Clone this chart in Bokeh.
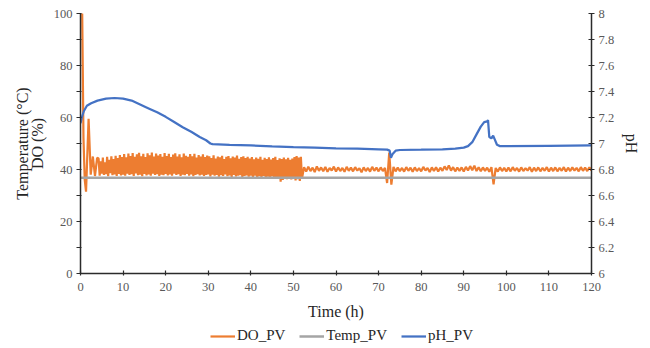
from bokeh.plotting import figure
from bokeh.layouts import column
from bokeh.models import (Range1d, LinearAxis, FixedTicker, CustomJSTickFormatter,
                          Legend, LegendItem)
from bokeh.embed import file_html
from bokeh.resources import INLINE

# ---------------- data ----------------
x_ticks = [0, 10, 20, 30, 40, 50, 60, 70, 80, 90, 100, 110, 120]
left_ticks = [0, 20, 40, 60, 80, 100]
left_minor = [10, 30, 50, 70, 90]
ph_ticks = [6, 6.2, 6.4, 6.6, 6.8, 7, 7.2, 7.4, 7.6, 7.8, 8]
series_names = ["DO_PV", "Temp_PV", "pH_PV"]

# DO_PV start-up transient
do_start_t = [0, 0.4, 0.7, 1.0, 1.3, 1.9, 2.4, 2.9, 3.4, 3.9]
do_start = [100, 100, 52, 36, 31.5, 59.5, 38, 45, 37.5, 44.5]

# DO_PV dense control oscillation, sampled every 0.25 h from 4.25 h to 52 h
do_band = [
    44.2, 37.6, 43.1, 38.4, 44.6, 37.9, 42.8, 38.2, 44.9, 37.4, 43.7, 38.6,
    45.1, 37.8, 44.0, 38.1, 45.3, 37.5, 44.4, 38.3, 45.6, 37.7, 44.8, 38.0,
    45.9, 37.6, 44.7, 38.4, 46.1, 37.9, 45.2, 38.2, 46.3, 37.5, 44.9, 38.5,
    45.8, 37.8, 46.4, 38.0, 45.1, 37.4, 46.0, 38.3, 44.8, 37.7, 46.2, 38.1,
    45.5, 37.6, 46.5, 38.4, 45.0, 37.9, 46.1, 38.2, 45.4, 37.5, 45.9, 38.0,
    44.9, 37.8, 46.3, 38.3,
    45.2, 37.7, 46.0, 38.1, 44.8, 37.6, 45.7, 38.4, 46.2, 37.9, 45.0, 38.2,
    45.8, 37.5, 44.7, 38.0, 46.1, 37.8, 45.3, 38.3, 44.9, 37.6, 45.9, 38.1,
    45.1, 37.4, 46.0, 37.9, 44.6, 38.2, 45.6, 37.7, 45.0, 38.0, 45.8, 37.5,
    44.8, 37.9, 45.4, 38.1,
    45.1, 37.3, 44.4, 38.0, 45.5, 37.6, 44.2, 37.9, 45.0, 37.2, 44.7, 37.8,
    45.3, 37.5, 44.0, 38.1, 44.9, 37.4, 45.2, 37.7, 44.3, 37.1, 45.0, 37.9,
    44.6, 37.3, 45.4, 37.6, 44.1, 37.8, 44.8, 37.0, 45.1, 37.5, 44.4, 37.7,
    44.9, 37.2, 44.2, 37.6,
    44.8, 37.0, 43.9, 37.6, 44.6, 36.8, 44.1, 37.4, 44.9, 36.9, 43.7, 37.5,
    44.5, 36.6, 44.0, 37.2, 44.7, 36.7, 43.8, 37.3, 44.4, 36.5, 44.9, 37.1,
    43.6, 36.4, 44.3, 35.3, 44.0, 36.0, 44.6, 36.8, 43.9, 36.3, 44.5, 36.9,
    43.7, 36.2, 44.2, 36.7,
    44.8, 35.8, 45.2, 36.3, 44.6, 35.6, 44.9, 36.4,
]

# DO_PV after 52 h, sampled every 0.5 h from 52.5 h to 120 h
do_tail = [
    40.9, 39.2, 41.1, 39.4, 40.7, 39.0, 41.2, 39.5, 40.8, 39.3, 41.0, 39.1, 40.6, 39.6, 41.1, 39.2,
    40.8, 39.4, 40.6, 39.1, 41.0, 39.5, 40.7, 39.3, 40.9, 39.6, 40.5, 38.9, 40.8, 39.4, 40.6, 39.2,
    41.0, 39.5, 40.7, 39.3,
    40.8, 39.4, 40.6, 34.8, 46.5, 34.2, 41.0, 39.3, 40.7, 39.4,
    40.6, 39.2, 40.9, 39.5, 40.7, 39.1, 40.8, 39.4, 40.5, 39.3, 41.0, 39.6, 40.6, 39.0, 40.8, 39.4,
    40.9, 39.2, 40.7, 39.5,
    41.2, 39.8, 41.6, 39.6, 40.9, 39.3, 40.7, 39.5, 40.8, 39.2, 41.0, 39.6, 41.3, 39.7, 41.5, 39.4,
    40.9, 39.3, 40.8, 39.5,
    40.7, 39.1, 40.9, 34.3, 40.6, 39.2, 40.8, 39.4, 40.6, 39.3,
    40.7, 39.3, 40.9, 39.5, 40.6, 39.2, 40.8, 39.4, 40.5, 39.6, 40.9, 39.1, 40.7, 39.4, 40.8, 39.3,
    40.6, 39.5, 40.9, 39.2,
    40.7, 39.4, 40.8, 39.3, 40.6, 39.5, 40.9, 39.2, 40.7, 39.4, 40.8, 39.6, 40.6, 39.3, 40.9, 39.5,
    40.7, 39.4, 40.8, 39.6,
]

# Temp_PV
temp_t = [0, 30, 60, 90, 120]
temp = [36.8, 36.8, 36.8, 36.8, 36.8]

# pH_PV
ph_t = [0, 0.3, 0.8, 1.5, 2.5, 4, 6, 8, 10, 12, 14, 16, 18, 20, 22, 24, 26, 28, 29.5,
        30.5, 31, 35, 40, 45, 50, 55, 60, 65, 70, 72, 72.6, 72.9, 73.3, 74, 75, 80, 85,
        88, 90, 91, 92, 93, 94, 94.8, 95.5, 95.7, 96.0, 96.5, 96.9, 97.3, 97.8, 98.5,
        100, 110, 120]
ph = [7.155, 7.2, 7.25, 7.29, 7.31, 7.33, 7.345, 7.35, 7.345, 7.33, 7.30, 7.27, 7.24,
      7.205, 7.165, 7.125, 7.09, 7.05, 7.025, 7.0, 6.995, 6.99, 6.985, 6.978, 6.972,
      6.968, 6.963, 6.96, 6.955, 6.953, 6.945, 6.89, 6.92, 6.945, 6.95, 6.952, 6.955,
      6.96, 6.968, 6.98, 7.01, 7.07, 7.13, 7.165, 7.17, 7.18, 7.05, 7.04, 7.06, 7.03,
      6.99, 6.98, 6.98, 6.982, 6.985]

band_t = [4.25 + 0.25 * i for i in range(len(do_band))]
tail_t = [52.5 + 0.5 * i for i in range(len(do_tail))]
do_t = do_start_t + band_t + tail_t
do = do_start + do_band + do_tail

# ---------------- plot ----------------
FONT = "Liberation Serif"
TICK_C = "#595959"
TITLE_C = "#262626"
AX_C = "#2b2b2b"
COLORS = ["#ED7D31", "#A5A5A5", "#4472C4"]
WIDTHS = [2.2, 2.5, 2.25]

p = figure(width=650, height=322, output_backend="svg", toolbar_location=None,
           x_range=Range1d(0, 120), y_range=Range1d(0, 100),
           min_border_left=80, min_border_right=59, min_border_top=13,
           min_border_bottom=49, x_axis_type=None, y_axis_type=None)
p.outline_line_color = None
p.background_fill_color = "white"
p.border_fill_color = "white"
p.extra_y_ranges = {"ph": Range1d(6, 8)}

def style(ax, title):
    ax.axis_label = title
    ax.axis_label_text_font = FONT
    ax.axis_label_text_font_size = "16px"
    ax.axis_label_text_font_style = "normal"
    ax.axis_label_text_color = TITLE_C
    ax.axis_label_text_line_height = 0.85
    ax.major_label_text_font = FONT
    ax.major_label_text_font_size = "12.5px"
    ax.major_label_text_color = TICK_C
    ax.axis_line_color = AX_C
    ax.axis_line_width = 1.5
    ax.major_tick_line_color = AX_C
    ax.minor_tick_line_color = AX_C
    ax.major_tick_line_width = 1.2
    ax.minor_tick_line_width = 1.2

xa = LinearAxis(ticker=FixedTicker(ticks=x_ticks))
style(xa, "Time (h)")
xa.major_tick_in = 3
xa.major_tick_out = 2
xa.major_label_standoff = 7
xa.axis_label_standoff = 9
p.add_layout(xa, "below")

ya = LinearAxis(ticker=FixedTicker(ticks=left_ticks, minor_ticks=left_minor))
style(ya, "Temperature (°C)\nDO (%)")
ya.major_tick_in = 1
ya.major_tick_out = 4
ya.minor_tick_in = 1
ya.minor_tick_out = 4
ya.major_label_standoff = 4
ya.axis_label_standoff = 5
p.add_layout(ya, "left")

ra = LinearAxis(y_range_name="ph", ticker=FixedTicker(ticks=ph_ticks),
                formatter=CustomJSTickFormatter(code="return (Math.round(tick*10)/10).toString();"))
style(ra, "pH")
ra.major_tick_in = 3
ra.major_tick_out = 3
ra.major_label_standoff = 4
ra.axis_label_standoff = 6
p.add_layout(ra, "right")

p.line(do_t, do, line_color=COLORS[0], line_width=WIDTHS[0])
p.line(temp_t, temp, line_color=COLORS[1], line_width=WIDTHS[1])
p.line(ph_t, ph, line_color=COLORS[2], line_width=WIDTHS[2], y_range_name="ph")

# legend strip below the chart (its frame is aligned with the chart's frame)
lg = figure(width=650, height=26, output_backend="svg", toolbar_location=None,
            x_range=Range1d(0, 1), y_range=Range1d(0, 1),
            min_border=0, min_border_left=0, min_border_right=0,
            min_border_top=0, min_border_bottom=0,
            x_axis_type=None, y_axis_type=None)
lg.outline_line_color = None
lg.xgrid.visible = False
lg.ygrid.visible = False
items = []
for name, c, w in zip(series_names, COLORS, WIDTHS):
    r = lg.line([float("nan")], [float("nan")], line_color=c, line_width=w)
    items.append(LegendItem(label=name, renderers=[r]))
legend = Legend(items=items, location=(130, 4), orientation="horizontal",
                border_line_color=None, background_fill_alpha=0,
                padding=0, margin=0, glyph_width=25, glyph_height=16,
                label_standoff=2, spacing=14,
                label_text_font=FONT, label_text_font_size="15px",
                label_text_color=TITLE_C)
lg.add_layout(legend)

layout = column(p, lg, spacing=0)
open("out.html", "w").write(file_html(layout, INLINE))
